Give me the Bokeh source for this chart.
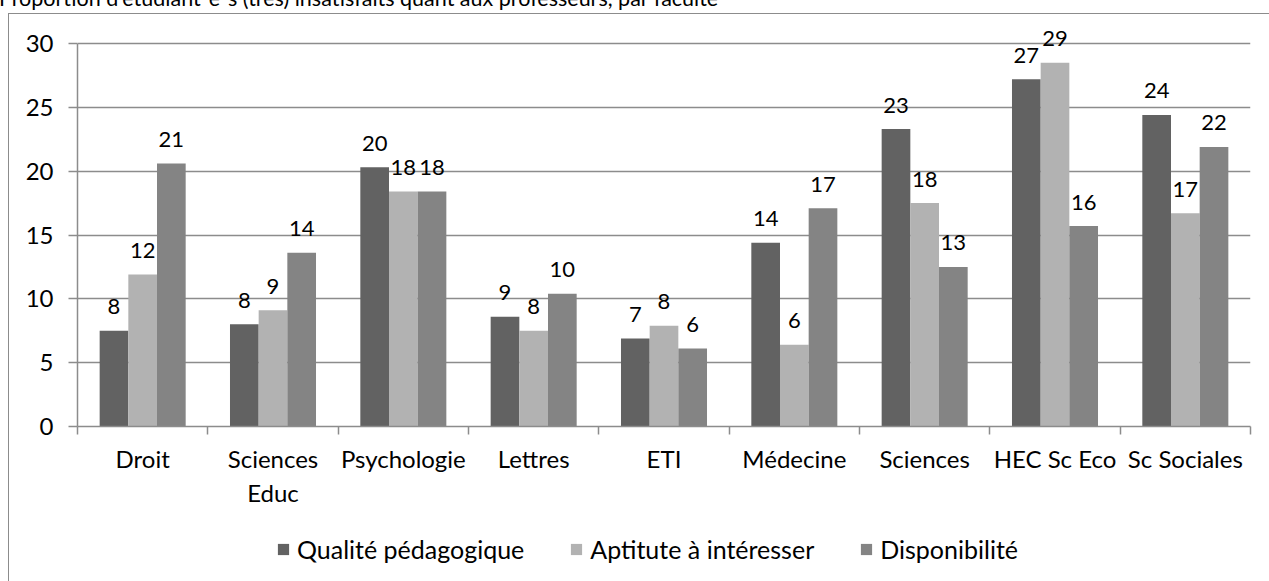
from bokeh.plotting import figure
from bokeh.layouts import column
from bokeh.models import (ColumnDataSource, FixedTicker, Legend, LegendItem, Range1d, Div)
from bokeh.core.properties import value
from bokeh.transform import dodge
from bokeh.embed import file_html
from bokeh.resources import INLINE

# ---- data ----
categories = ["Droit", "Sciences\nEduc", "Psychologie", "Lettres", "ETI",
              "Médecine", "Sciences", "HEC Sc Eco", "Sc Sociales"]
series_names = ["Qualité pédagogique", "Aptitute à intéresser", "Disponibilité"]
qualite = [7.5, 8.0, 20.3, 8.6, 6.9, 14.4, 23.3, 27.2, 24.4]
aptitude = [11.9, 9.1, 18.4, 7.5, 7.9, 6.4, 17.5, 28.5, 16.7]
disponibilite = [20.6, 13.6, 18.4, 10.4, 6.1, 17.1, 12.5, 15.7, 21.9]
y_ticks = [0, 5, 10, 15, 20, 25, 30]
title_text = "Proportion d'étudiant-e-s (très) insatisfaits quant aux professeurs, par faculté"

colors = ["#626262", "#b2b2b2", "#848484"]
FONT = "Lato"
FS = "24px"
GRID = "#8c8c8c"
W = 1269
H0, H1, H2 = 12, 508, 61   # title strip, chart, legend strip
LEFT, RIGHT, BOTTOM = 77, 19, 94

n = len(categories)
centers = [i + 0.5 for i in range(n)]
bounds = [i for i in range(n + 1)]

def lab(v):
    return str(int(v + 0.5))

src = ColumnDataSource(dict(
    x=centers,
    q=qualite, a=aptitude, d=disponibilite,
    ql=[lab(v) for v in qualite],
    al=[lab(v) for v in aptitude],
    dl=[lab(v) for v in disponibilite],
))

# ---- title strip (title cropped at the top like the reference) ----
title_div = Div(
    text=('<div style="font-family: Lato; font-size: 21.5px; line-height: 26px; '
          'white-space: nowrap; position: relative; top: -15px; left: -1px; color: #000;">'
          + title_text + '</div>'),
    width=W, height=H0, margin=(0, 0, 0, 0), styles={"overflow": "hidden"})

# ---- main chart ----
frame_h = H1 - BOTTOM           # frame spans the whole strip above the axis
y_top = 30 * frame_h / 383      # keeps 30 at the reference's gridline, room for labels above
p = figure(width=W, height=H1, output_backend="svg", toolbar_location=None,
           x_range=Range1d(0, n), y_range=Range1d(0, y_top),
           min_border_left=LEFT, min_border_right=RIGHT, min_border_top=0,
           min_border_bottom=BOTTOM)
p.outline_line_color = None
p.background_fill_alpha = 0
p.border_fill_alpha = 0
p.styles = {
    "background-color": "white",
    "background-image": "linear-gradient(#8c8c8c, #8c8c8c), linear-gradient(#8c8c8c, #8c8c8c)",
    "background-size": "1px 100%, 100% 1px",
    "background-position": "8px 1px, 8px 1px",
    "background-repeat": "no-repeat",
}

bw = 0.22
offsets = [-bw, 0.0, bw]
cols = ["q", "a", "d"]
lcols = ["ql", "al", "dl"]
for off, c, lc, col in zip(offsets, cols, lcols, colors):
    p.vbar(x=dodge("x", off, range=p.x_range), top=c, width=bw, bottom=0,
           source=src, fill_color=col, line_color=None)
    p.text(x=dodge("x", off, range=p.x_range), y=c, text=lc, source=src,
           text_align="center", text_baseline="middle", y_offset=-24,
           text_font=value(FONT), text_font_size=value("22px"), text_color="black")

xa = p.xaxis[0]
xa.ticker = FixedTicker(ticks=centers, minor_ticks=bounds)
xa.major_label_overrides = {c: cat for c, cat in zip(centers, categories)}
xa.major_tick_out = 0
xa.major_tick_in = 0
xa.minor_tick_out = 8
xa.minor_tick_in = 0
xa.minor_tick_line_color = GRID
xa.minor_tick_line_width = 1.5
xa.axis_line_color = GRID
xa.axis_line_width = 1.5
xa.major_label_standoff = 9
xa.major_label_text_font = FONT
xa.major_label_text_font_size = FS
xa.major_label_text_color = "black"

ya = p.yaxis[0]
ya.ticker = FixedTicker(ticks=y_ticks)
ya.bounds = (0, 30)
ya.major_tick_out = 9
ya.major_tick_in = 0
ya.minor_tick_out = 0
ya.minor_tick_in = 0
ya.major_tick_line_color = GRID
ya.major_tick_line_width = 1.5
ya.axis_line_color = GRID
ya.axis_line_width = 1.5
ya.major_label_standoff = 15
ya.major_label_text_font = FONT
ya.major_label_text_font_size = FS
ya.major_label_text_color = "black"

p.xgrid.grid_line_color = None
p.ygrid.grid_line_color = GRID
p.ygrid.grid_line_width = 1.5

# ---- legend strip ----
p2 = figure(width=W, height=H2, output_backend="svg", toolbar_location=None,
            x_range=Range1d(0, n), y_range=Range1d(1000, 1001),
            x_axis_type=None, y_axis_type=None,
            min_border_left=LEFT, min_border_right=RIGHT,
            min_border_top=0, min_border_bottom=0)
p2.outline_line_color = None
p2.xgrid.visible = False
p2.ygrid.visible = False
p2.background_fill_alpha = 0
p2.border_fill_alpha = 0
p2.styles = {
    "background-color": "white",
    "background-image": "linear-gradient(#8c8c8c, #8c8c8c)",
    "background-size": "1px 100%",
    "background-position": "8px 0px",
    "background-repeat": "no-repeat",
}
# legend keys: same series, drawn from the same data (outside this strip's visible range)
keys = []
for off, c, col in zip(offsets, cols, colors):
    keys.append(p2.vbar(x=dodge("x", off, range=p2.x_range), top=c, width=bw, bottom=0,
                        source=src, fill_color=col, line_color=None))
legend = Legend(items=[LegendItem(label=nm, renderers=[r]) for nm, r in zip(series_names, keys)],
                orientation="horizontal", location=(199, 17),
                glyph_width=14, glyph_height=14, label_standoff=7, spacing=45,
                padding=0, margin=0, border_line_color=None, background_fill_alpha=0,
                label_text_font=FONT, label_text_font_size="25px", label_text_color="black")
p2.add_layout(legend, "center")

layout = column(title_div, p, p2, spacing=0)
open("out.html", "w").write(file_html(layout, INLINE))
